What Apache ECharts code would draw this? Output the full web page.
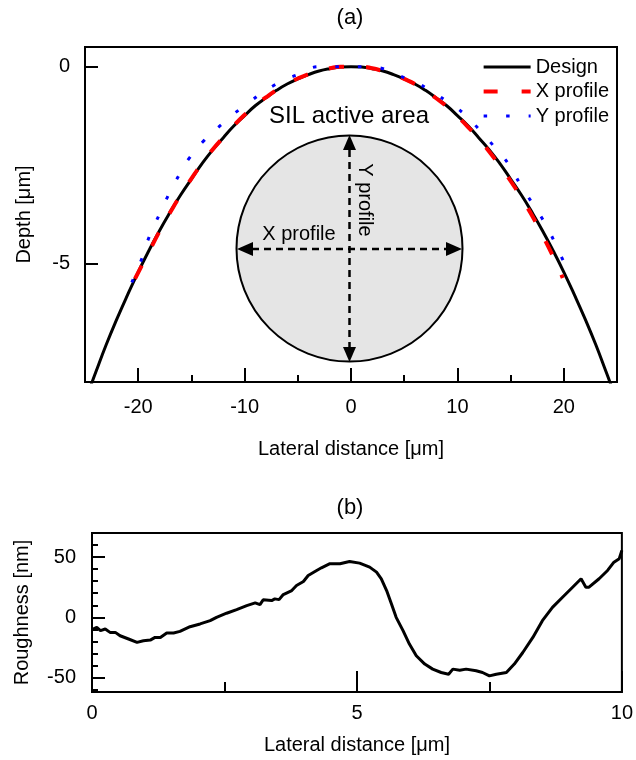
<!DOCTYPE html>
<html>
<head>
<meta charset="utf-8">
<script src="https://cdn.jsdelivr.net/npm/echarts@6/dist/echarts.min.js"></script>
<style>html,body{margin:0;padding:0;background:#fff;}#c{width:636px;height:760px;}</style>
</head>
<body>
<div id="c"></div>
<script>
// ---- Panel (a): profiles ----
var designX = [-24.6,-24,-23,-22,-21,-20,-19,-18,-17,-16,-15,-14,-13,-12,-11,-10,-9,-8,-7,-6,-5,-4,-3,-2,-1,0,1,2,3,4,5,6,7,8,9,10,11,12,13,14,15,16,17,18,19,20,21,22,23,24,24.6];
var designY = [-8.2,-7.76,-7.05,-6.40,-5.79,-5.21,-4.67,-4.16,-3.69,-3.25,-2.85,-2.46,-2.11,-1.80,-1.50,-1.24,-0.99,-0.79,-0.60,-0.44,-0.31,-0.20,-0.11,-0.05,-0.01,0,-0.01,-0.05,-0.11,-0.20,-0.31,-0.44,-0.60,-0.79,-0.99,-1.24,-1.50,-1.80,-2.11,-2.46,-2.85,-3.25,-3.69,-4.16,-4.67,-5.21,-5.79,-6.40,-7.05,-7.76,-8.2];

var xProfX = [-20.3,-19,-18,-17,-16,-15,-14,-13,-12,-11,-10,-9,-8,-7,-6,-5,-4,-3,-2,-1,0,1,2,3,4,5,6,7,8,9,10,11,12,13,14,15,16,17,18,19,19.9];
var xProfY = [-5.38,-4.70,-4.18,-3.70,-3.25,-2.84,-2.45,-2.10,-1.79,-1.49,-1.22,-0.98,-0.78,-0.59,-0.43,-0.30,-0.19,-0.10,-0.04,0,0,0,-0.04,-0.11,-0.19,-0.31,-0.44,-0.61,-0.80,-1.01,-1.26,-1.53,-1.83,-2.16,-2.52,-2.90,-3.32,-3.77,-4.28,-4.82,-5.36];

var yProfX = [-20.6,-19.7,-19.0,-18.1,-17.2,-16.2,-15.2,-13.8,-12.1,-10.3,-7.1,-5.0,-2.9,-0.7,1.3,5.6,7.3,9.0,10.6,12.0,13.4,14.8,15.9,17.1,18.2,19.2,20.1];
var yProfY = [-5.47,-4.90,-4.34,-3.80,-3.28,-2.77,-2.32,-1.87,-1.45,-1.05,-0.45,-0.20,0,0,0,-0.34,-0.58,-0.88,-1.19,-1.58,-2.01,-2.47,-2.98,-3.49,-3.96,-4.49,-5.02];

var topXMajor = [-20,-10,0,10,20];
var topXMinor = [-15,-5,5,15];
var topYMajor = [-5,0];

// ---- Panel (b): roughness ----
var roughX = [0.02,0.09,0.16,0.25,0.34,0.44,0.53,0.69,0.85,0.97,1.10,1.19,1.29,1.41,1.54,1.66,1.85,2.04,2.23,2.35,2.54,2.73,2.92,3.08,3.17,3.23,3.39,3.45,3.53,3.61,3.77,3.86,3.99,4.08,4.24,4.33,4.49,4.68,4.86,5.05,5.24,5.37,5.46,5.56,5.65,5.74,5.87,5.99,6.12,6.28,6.43,6.59,6.73,6.81,6.94,7.06,7.25,7.37,7.50,7.63,7.82,7.97,8.13,8.32,8.50,8.69,8.88,9.07,9.23,9.32,9.38,9.57,9.73,9.85,9.95,10.0];
var roughY = [-9.7,-8.3,-11,-9.7,-12.5,-12.5,-15.3,-18,-20.8,-19.4,-18.9,-16.7,-16.7,-13,-13,-11.7,-7.8,-5.5,-2.8,0,3.4,6.4,9.7,12,10.6,14.5,13.9,15.3,14.7,18.9,22.2,26.4,29.7,34.7,38.9,41.1,44.5,44.5,46.4,45,41.7,37.5,32,22.2,11.2,0,-11,-22.2,-31.9,-38.8,-43,-45.8,-47.2,-43,-43.9,-43,-44.4,-45.8,-48.6,-47.2,-45.8,-38.8,-29.2,-16.7,-2.8,8.3,16.7,25,32,25,25,32,38.9,45.8,48.7,55.6];

var botXMajor = [0,5,10];
var botXMinor = [2.5,7.5];
var botYMajor = [-50,0,50];
var botYMinor = [-60,-40,-30,-20,-10,10,20,30,40,60];

function zip(a,b){ return a.map(function(v,i){ return [v,b[i]]; }); }

var FONT = 'Liberation Sans, Arial, sans-serif';
var lbl = {color:'#000', fontSize:20, fontFamily:FONT};

function axisBase(extra){
  var o = {
    type:'value',
    splitLine:{show:false},
    axisLine:{show:true, onZero:false, lineStyle:{color:'#000', width:2}},
    nameTextStyle:{color:'#000', fontSize:20, fontFamily:FONT}
  };
  for (var k in extra) o[k] = extra[k];
  return o;
}

var chart = echarts.init(document.getElementById('c'), null, {renderer:'canvas'});

var option = {
  backgroundColor:'#fff',
  animation:false,
  grid:[
    {left:85, right:19, top:47, height:335, show:true, borderColor:'#000', borderWidth:2, backgroundColor:'transparent'},
    {left:92, right:13, top:533, height:159, show:true, borderColor:'#000', borderWidth:2, backgroundColor:'transparent'}
  ],
  xAxis:[
    axisBase({gridIndex:0, position:'bottom', min:-25, max:25,
      axisTick:{show:true, inside:true, length:14, customValues:topXMajor, lineStyle:{color:'#000', width:2}},
      axisLabel:Object.assign({margin:15, customValues:topXMajor}, lbl),
      name:'Lateral distance [\u03bcm]', nameLocation:'middle', nameGap:57}),
    axisBase({gridIndex:0, position:'bottom', min:-25, max:25,
      axisLine:{show:false, onZero:false},
      axisTick:{show:true, inside:true, length:7, customValues:topXMinor, lineStyle:{color:'#000', width:2}},
      axisLabel:{show:false}}),
    axisBase({gridIndex:1, position:'bottom', min:0, max:10,
      axisTick:{show:true, inside:true, length:21, customValues:botXMajor, lineStyle:{color:'#000', width:2}},
      axisLabel:Object.assign({margin:11, customValues:botXMajor}, lbl),
      name:'Lateral distance [\u03bcm]', nameLocation:'middle', nameGap:43}),
    axisBase({gridIndex:1, position:'bottom', min:0, max:10,
      axisLine:{show:false, onZero:false},
      axisTick:{show:true, inside:true, length:10, customValues:botXMinor, lineStyle:{color:'#000', width:2}},
      axisLabel:{show:false}})
  ],
  yAxis:[
    axisBase({gridIndex:0, position:'left', min:-8, max:0.5,
      axisTick:{show:true, inside:true, length:13, customValues:topYMajor, lineStyle:{color:'#000', width:2}},
      axisLabel:Object.assign({margin:15, customValues:topYMajor}, lbl),
      name:'Depth [\u03bcm]', nameLocation:'middle', nameGap:51}),
    axisBase({gridIndex:1, position:'left', min:-62, max:70,
      axisTick:{show:true, inside:true, length:13, customValues:botYMajor, lineStyle:{color:'#000', width:2}},
      axisLabel:Object.assign({margin:16, customValues:botYMajor}, lbl),
      name:'Roughness [nm]', nameLocation:'middle', nameGap:60}),
    axisBase({gridIndex:1, position:'left', min:-62, max:70,
      axisLine:{show:false, onZero:false},
      axisTick:{show:true, inside:true, length:6, customValues:botYMinor, lineStyle:{color:'#000', width:2}},
      axisLabel:{show:false}})
  ],
  legend:{
    orient:'vertical', right:27, top:55, padding:0,
    itemWidth:47, itemHeight:14, itemGap:0.5,
    itemStyle:{color:'transparent', borderColor:'transparent', borderWidth:0, opacity:0},
    textStyle:{color:'#000', fontSize:20, fontFamily:FONT, lineHeight:24},
    data:[
      {name:'Design', lineStyle:{width:3}},
      {name:'X profile', lineStyle:{type:[14,24], width:4}},
      {name:'Y profile', lineStyle:{type:[3.5,19], width:3}}
    ]
  },
  series:[
    {name:'Design', type:'line', xAxisIndex:0, yAxisIndex:0, data:zip(designX, designY),
      symbol:'none', smooth:true, lineStyle:{color:'#000', width:3}, itemStyle:{color:'#000'}, z:2},
    {name:'X profile', type:'line', xAxisIndex:0, yAxisIndex:0, data:zip(xProfX, xProfY),
      symbol:'none', smooth:true, lineStyle:{color:'#ff0000', width:4, type:[15,22]}, itemStyle:{color:'#ff0000'}, z:3},
    {name:'Y profile', type:'line', xAxisIndex:0, yAxisIndex:0, data:zip(yProfX, yProfY),
      symbol:'none', smooth:true, lineStyle:{color:'#0000ff', width:3, type:[3.5,19]}, itemStyle:{color:'#0000ff'}, z:4},
    {name:'Roughness', type:'line', xAxisIndex:2, yAxisIndex:1, data:zip(roughX, roughY),
      symbol:'none', lineStyle:{color:'#000', width:3}, itemStyle:{color:'#000'}, z:2}
  ],
  graphic:[
    {type:'text', x:350, y:18, style:{text:'(a)', fill:'#000', font:'22px ' + FONT, align:'center', verticalAlign:'middle'}},
    {type:'text', x:350, y:508, style:{text:'(b)', fill:'#000', font:'22px ' + FONT, align:'center', verticalAlign:'middle'}},
    {type:'circle', shape:{cx:349.5, cy:248.5, r:113}, style:{fill:'#e5e5e5', stroke:'#000', lineWidth:2}, z:10},
    {type:'line', shape:{x1:252, y1:249, x2:447, y2:249}, style:{stroke:'#000', lineWidth:2.5, lineDash:[7,5]}, z:11},
    {type:'line', shape:{x1:349.5, y1:150, x2:349.5, y2:347}, style:{stroke:'#000', lineWidth:2.5, lineDash:[7,5]}, z:11},
    {type:'polygon', shape:{points:[[237,249],[253,242],[253,256]]}, style:{fill:'#000'}, z:12},
    {type:'polygon', shape:{points:[[462,249],[446,242],[446,256]]}, style:{fill:'#000'}, z:12},
    {type:'polygon', shape:{points:[[349.5,135],[343,150],[356,150]]}, style:{fill:'#000'}, z:12},
    {type:'polygon', shape:{points:[[349.5,362],[343,347],[356,347]]}, style:{fill:'#000'}, z:12},
    {type:'text', x:349, y:116, style:{text:'SIL active area', fill:'#000', font:'24px ' + FONT, align:'center', verticalAlign:'middle'}, z:12},
    {type:'text', x:299, y:234, style:{text:'X profile', fill:'#000', font:'20px ' + FONT, align:'center', verticalAlign:'middle'}, z:12},
    {type:'text', x:365, y:200, rotation:-Math.PI/2, style:{text:'Y profile', fill:'#000', font:'20px ' + FONT, align:'center', verticalAlign:'middle'}, z:12}
  ]
};
chart.setOption(option);
</script>
</body>
</html>
